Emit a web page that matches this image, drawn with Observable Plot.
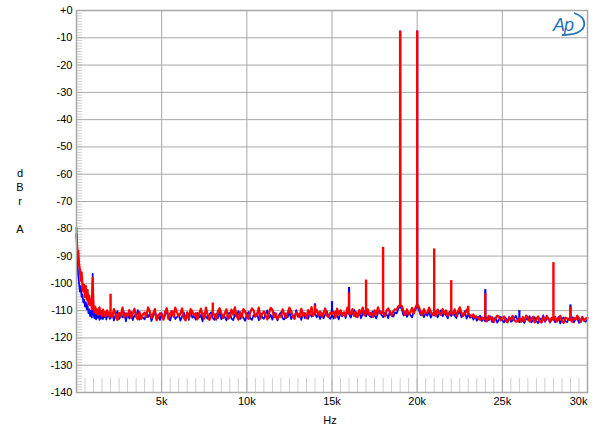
<!DOCTYPE html>
<html><head><meta charset="utf-8">
<script src="https://cdn.jsdelivr.net/npm/d3@7"></script>
<script src="https://cdn.jsdelivr.net/npm/@observablehq/plot@0.6"></script>
<style>
body{margin:0;background:#fff;}
#wrap{position:relative;width:600px;height:438px;font-family:Arial,"Liberation Sans",sans-serif;}
.lbl{position:absolute;font-size:11px;color:#000;transform:translate(-50%,-50%);line-height:1;white-space:nowrap;}
</style></head><body><div id="wrap"></div>
<script>
// ---- axis ticks ----
const xTickHz = [5000, 10000, 15000, 20000, 25000];
const xLastTickHz = [30000];
const yTickDb = [0, -10, -20, -30, -40, -50, -60, -70, -80, -90, -100, -110, -120, -130, -140];
const xMinorHz = d3.range(500, 30000, 500);
const yMinorDb = d3.range(-139, 0, 1);

// ---- low-frequency part (0 .. 1950 Hz, every 50 Hz) ----
const lowStepHz = 50;
const redLowDb = [-82, -88, -88, -93, -95, -99, -96, -101, -103, -100.5,
  -105, -101, -106, -102.5, -107.5, -104.5, -108, -106, -109.5, -98,
  -109, -110.5, -108.5, -111, -109.5, -111.5, -110, -108.8, -111.3, -110.2,
  -112, -109.6, -111.5, -110.4, -112.1, -110.8, -109.9, -111.7, -110.6, -112.3];
const blueLowDb = [-79.5, -92, -97, -100, -103, -101, -105, -104, -107, -106,
  -108.5, -107, -109.5, -108, -111, -109.5, -112, -110, -112.5, -96.5,
  -111.5, -112.8, -110.6, -113.2, -111.4, -112.6, -110.9, -113.4, -111.7, -112.9,
  -110.5, -113.1, -111.8, -112.4, -110.7, -113.3, -111.6, -112.2, -110.9, -113.0];

// ---- noise floor (2000 .. 30000 Hz, every 100 Hz) ----
const mainStartHz = 2000, mainStepHz = 100;
const redFloorDb = [
  -110.6, -112.2, -109.4, -111.5, -113.4, -110.8, -111.9, -108.9, -112.4, -111.0,
  -111.9, -109.8, -112.6, -111.2, -109.3, -112.1, -113.2, -110.5, -113.0, -111.3,
  -110.7, -112.3, -108.8, -110.2, -112.7, -111.1, -109.4, -113.5, -112.5, -110.9,
  -111.6, -113.3, -110.5, -109.1, -113.1, -111.0, -110.1, -112.2, -108.9, -110.7,
  -112.0, -111.1, -109.2, -112.6, -113.6, -110.6, -112.8, -109.4, -110.3, -111.8,
  -110.9, -113.2, -111.2, -109.3, -111.7, -112.9, -108.9, -111.5, -113.4, -112.1,
  -110.6, -111.8, -113.3, -110.3, -109.1, -110.9, -112.7, -111.1, -109.5, -113.0,
  -112.3, -109.6, -111.5, -108.8, -112.0, -113.3, -110.5, -112.6, -109.4, -110.4,
  -111.8, -113.1, -110.6, -109.2, -109.9, -112.2, -111.4, -108.9, -112.9, -111.1,
  -110.3, -111.7, -113.2, -110.9, -109.0, -109.7, -112.4, -111.0, -113.1, -111.9,
  -112.2, -109.5, -111.3, -112.7, -110.8, -108.9, -110.1, -112.0, -113.0, -110.7,
  -111.2, -112.4, -109.3, -111.8, -110.9, -112.8, -109.8, -111.5, -108.7, -111.9,
  -110.8, -109.6, -111.6, -110.3, -112.2, -111.0, -109.2, -111.8, -112.3, -110.7,
  -111.1, -110.4, -112.6, -109.3, -111.5, -109.9, -111.7, -110.6, -112.1, -108.9,
  -110.8, -111.3, -109.4, -111.9, -110.5, -112.4, -109.8, -111.0, -108.9, -111.7,
  -110.9, -109.5, -111.6, -110.7, -112.3, -109.9, -111.5, -108.8, -111.0, -110.6,
  -110.8, -112.1, -110.1, -109.2, -110.5, -111.7, -110.2, -109.5, -109.6, -108.4,
  -107.9, -108.3, -110.2, -111.6, -109.5, -111.3, -110.6, -109.0, -111.1, -108.9,
  -107.5, -108.6, -110.5, -111.7, -109.4, -111.0, -110.7, -108.9, -110.3, -111.6,
  -110.6, -111.9, -109.6, -110.9, -111.6, -109.4, -111.1, -109.9, -112.0, -110.7,
  -110.8, -111.4, -109.5, -111.9, -110.3, -108.8, -110.8, -112.0, -111.1, -109.6,
  -111.0, -111.6, -112.3, -111.4, -112.6, -112.1, -112.9, -113.4, -112.5, -113.2,
  -112.8, -113.9, -111.9, -113.1, -112.4, -114.2, -112.9, -111.8, -112.2, -113.6,
  -113.0, -112.1, -113.7, -114.3, -112.6, -113.2, -111.9, -113.5, -114.0, -113.9,
  -112.7, -114.1, -112.3, -113.8, -111.8, -112.5, -114.0, -113.1, -112.2, -114.3,
  -113.2, -112.1, -113.9, -114.4, -112.4, -113.7, -111.9, -112.9, -114.1, -112.6,
  -113.5, -112.3, -114.0, -113.2, -111.9, -113.8, -114.5, -112.6, -112.9, -113.4,
  -113.0, -114.1, -112.6, -113.4, -111.8, -112.8, -114.2, -112.5, -113.6, -112.9,
  -112.6];
const blueFloorDb = [
  -112.8, -110.9, -113.6, -111.3, -110.2, -113.1, -111.8, -112.5, -110.6, -113.9,
  -111.2, -112.9, -110.4, -113.5, -111.7, -112.2, -109.8, -113.3, -111.9, -112.6,
  -113.2, -110.8, -112.4, -111.1, -113.8, -112.0, -110.3, -112.9, -111.5, -113.4,
  -110.9, -113.0, -111.8, -109.6, -112.5, -113.6, -111.2, -110.5, -113.1, -112.3,
  -111.5, -113.7, -112.1, -110.7, -112.9, -111.3, -113.4, -110.1, -112.6, -111.9,
  -113.3, -110.8, -112.5, -111.6, -113.9, -110.9, -112.2, -113.0, -111.4, -110.6,
  -112.7, -113.4, -111.1, -112.8, -110.4, -113.2, -111.7, -112.3, -113.6, -111.0,
  -110.8, -112.9, -113.5, -111.4, -112.1, -110.2, -113.1, -111.8, -112.6, -113.7,
  -111.3, -110.5, -112.8, -113.4, -111.6, -112.2, -110.9, -113.5, -111.1, -112.4,
  -113.0, -111.2, -109.9, -112.7, -111.5, -113.3, -110.7, -112.1, -113.6, -111.4,
  -110.6, -112.9, -113.2, -111.0, -112.4, -110.3, -113.1, -111.7, -112.6, -109.8,
  -112.3, -111.1, -113.4, -110.8, -112.7, -111.6, -113.0, -110.5, -112.2, -111.3,
  -110.7, -112.5, -111.2, -113.1, -110.9, -112.8, -111.5, -110.2, -112.4, -113.0,
  -111.6, -112.9, -110.4, -111.8, -113.2, -110.6, -112.1, -111.0, -112.7, -110.3,
  -111.2, -112.6, -110.8, -109.7, -112.3, -111.4, -110.5, -112.8, -111.1, -110.2,
  -112.1, -110.6, -111.9, -112.5, -110.3, -111.7, -112.9, -110.8, -109.9, -111.5,
  -112.4, -110.7, -111.3, -112.8, -110.1, -111.9, -112.2, -110.6, -111.0, -109.2,
  -108.6, -109.5, -111.8, -110.4, -112.3, -110.9, -111.6, -112.5, -110.2, -109.6,
  -108.2, -109.8, -111.6, -110.3, -112.4, -110.8, -111.9, -110.1, -112.6, -111.2,
  -111.8, -110.2, -112.5, -111.0, -109.8, -112.1, -110.6, -111.7, -112.8, -110.4,
  -112.0, -110.5, -111.9, -112.7, -111.1, -110.3, -112.4, -111.6, -110.2, -112.9,
  -111.4, -112.6, -111.8, -113.3, -112.0, -113.7, -112.5, -111.9, -113.8, -112.7,
  -113.9, -112.4, -113.6, -112.1, -114.2, -113.0, -112.6, -114.4, -113.3, -112.2,
  -113.5, -114.3, -112.7, -113.9, -112.3, -114.1, -113.6, -112.8, -111.9, -113.7,
  -114.2, -112.9, -113.8, -114.5, -112.6, -113.4, -112.0, -114.3, -113.5, -112.4,
  -113.9, -114.6, -112.8, -113.5, -111.7, -114.1, -113.2, -112.6, -114.4, -113.1,
  -112.7, -114.2, -113.4, -112.3, -114.7, -113.0, -112.5, -113.9, -114.2, -112.8,
  -113.6, -112.4, -114.3, -113.1, -112.6, -114.5, -113.3, -112.2, -113.8, -114.1,
  -113.0];

// ---- tones and spurs (peak levels) ----
const redSpikeHz = [2000, 8000, 14000, 16000, 17000, 18000, 19000, 20000, 21000, 22000, 23000, 24000, 28000, 29000];
const redSpikeDb = [-104, -107.2, -108, -103.5, -98.8, -86.8, -7.6, -7.6, -87.4, -99, -108.4, -103.8, -92.4, -108.7];
const blueSpikeHz = [14000, 15000, 16000, 19000, 20000, 24000, 26000, 29000];
const blueSpikeDb = [-107.5, -106.7, -101.5, -7.5, -7.5, -102.3, -110, -107.9];

function buildSeries(low, floor) {
  const pts = [];
  low.forEach((v, i) => pts.push({hz: i * lowStepHz, db: v}));
  floor.forEach((v, i) => pts.push({hz: mainStartHz + i * mainStepHz, db: v}));
  return pts;
}
function buildSpikes(series, hzs, dbs) {
  return hzs.map((h, i) => ({hz: h, base: series.find(p => p.hz === h).db, db: dbs[i]}));
}
const red = buildSeries(redLowDb, redFloorDb);
const blue = buildSeries(blueLowDb, blueFloorDb);
const redSpikes = buildSpikes(red, redSpikeHz, redSpikeDb);
const blueSpikes = buildSpikes(blue, blueSpikeHz, blueSpikeDb);

const fmtX = d => (d / 1000) + "k";
const fmtY = d => d === 0 ? "+0" : String(d);
const font = 'Arial, "Liberation Sans", sans-serif';

const plot = Plot.plot({
  width: 600, height: 438,
  marginLeft: 76, marginRight: 13, marginTop: 10, marginBottom: 46,
  style: {fontFamily: font, fontSize: "11px", background: "#fff", color: "#000", overflow: "visible"},
  x: {domain: [0, 30000]},
  y: {domain: [-140, 0]},
  marks: [
    Plot.axisY(yMinorDb, {tickSize: -6, stroke: "#cfcfcf", strokeWidth: 1, tickFormat: () => "", label: null}),
    Plot.axisX(xMinorHz, {tickSize: -14, stroke: "#cfcfcf", strokeWidth: 1, tickFormat: () => "", label: null}),
    Plot.gridX(xTickHz, {stroke: "#a8a8a8", strokeOpacity: 1, strokeWidth: 1}),
    Plot.gridY(yTickDb, {stroke: "#a8a8a8", strokeOpacity: 1, strokeWidth: 1}),
    Plot.axisY(yTickDb, {tickSize: 0, tickPadding: 4, tickFormat: fmtY, label: null, fill: "#000"}),
    Plot.axisX(xTickHz, {tickSize: 0, tickPadding: 5, tickFormat: fmtX, label: null, fill: "#000"}),
    Plot.axisX(xLastTickHz, {tickSize: 0, tickPadding: 5, tickFormat: fmtX, label: null, textAnchor: "end", fill: "#000"}),
    Plot.line(blue, {x: "hz", y: "db", stroke: "#0000ff", strokeWidth: 1.7}),
    Plot.ruleX(blueSpikes, {x: "hz", y1: "base", y2: "db", stroke: "#0000ff", strokeWidth: 2.2}),
    Plot.line(red, {x: "hz", y: "db", stroke: "#ff0000", strokeWidth: 2.2}),
    Plot.ruleX(redSpikes, {x: "hz", y1: "base", y2: "db", stroke: "#ff0000", strokeWidth: 2.4}),
    Plot.frame({stroke: "#a8a8a8", strokeWidth: 1.5})
  ]
});
const wrap = document.getElementById("wrap");
wrap.appendChild(plot);

const labels = [["d", 20, 173], ["B", 20, 187], ["r", 20, 201], ["A", 20, 229], ["Hz", 330, 420]];
labels.forEach(([t, x, y]) => {
  const el = document.createElement("div");
  el.className = "lbl"; el.textContent = t;
  el.style.left = x + "px"; el.style.top = y + "px";
  wrap.appendChild(el);
});
wrap.insertAdjacentHTML("beforeend",
  '<svg style="position:absolute;left:551px;top:11px" width="36" height="28">' +
  '<text x="2" y="20" font-family="Arial, Liberation Sans, sans-serif" font-style="italic" font-size="18" fill="#1f75b9" letter-spacing="-1">Ap</text>' +
  '<path d="M 23 2 Q 35 6 33 15 Q 30 24 11 24" fill="none" stroke="#1f75b9" stroke-width="1.8"/></svg>');
</script></body></html>
